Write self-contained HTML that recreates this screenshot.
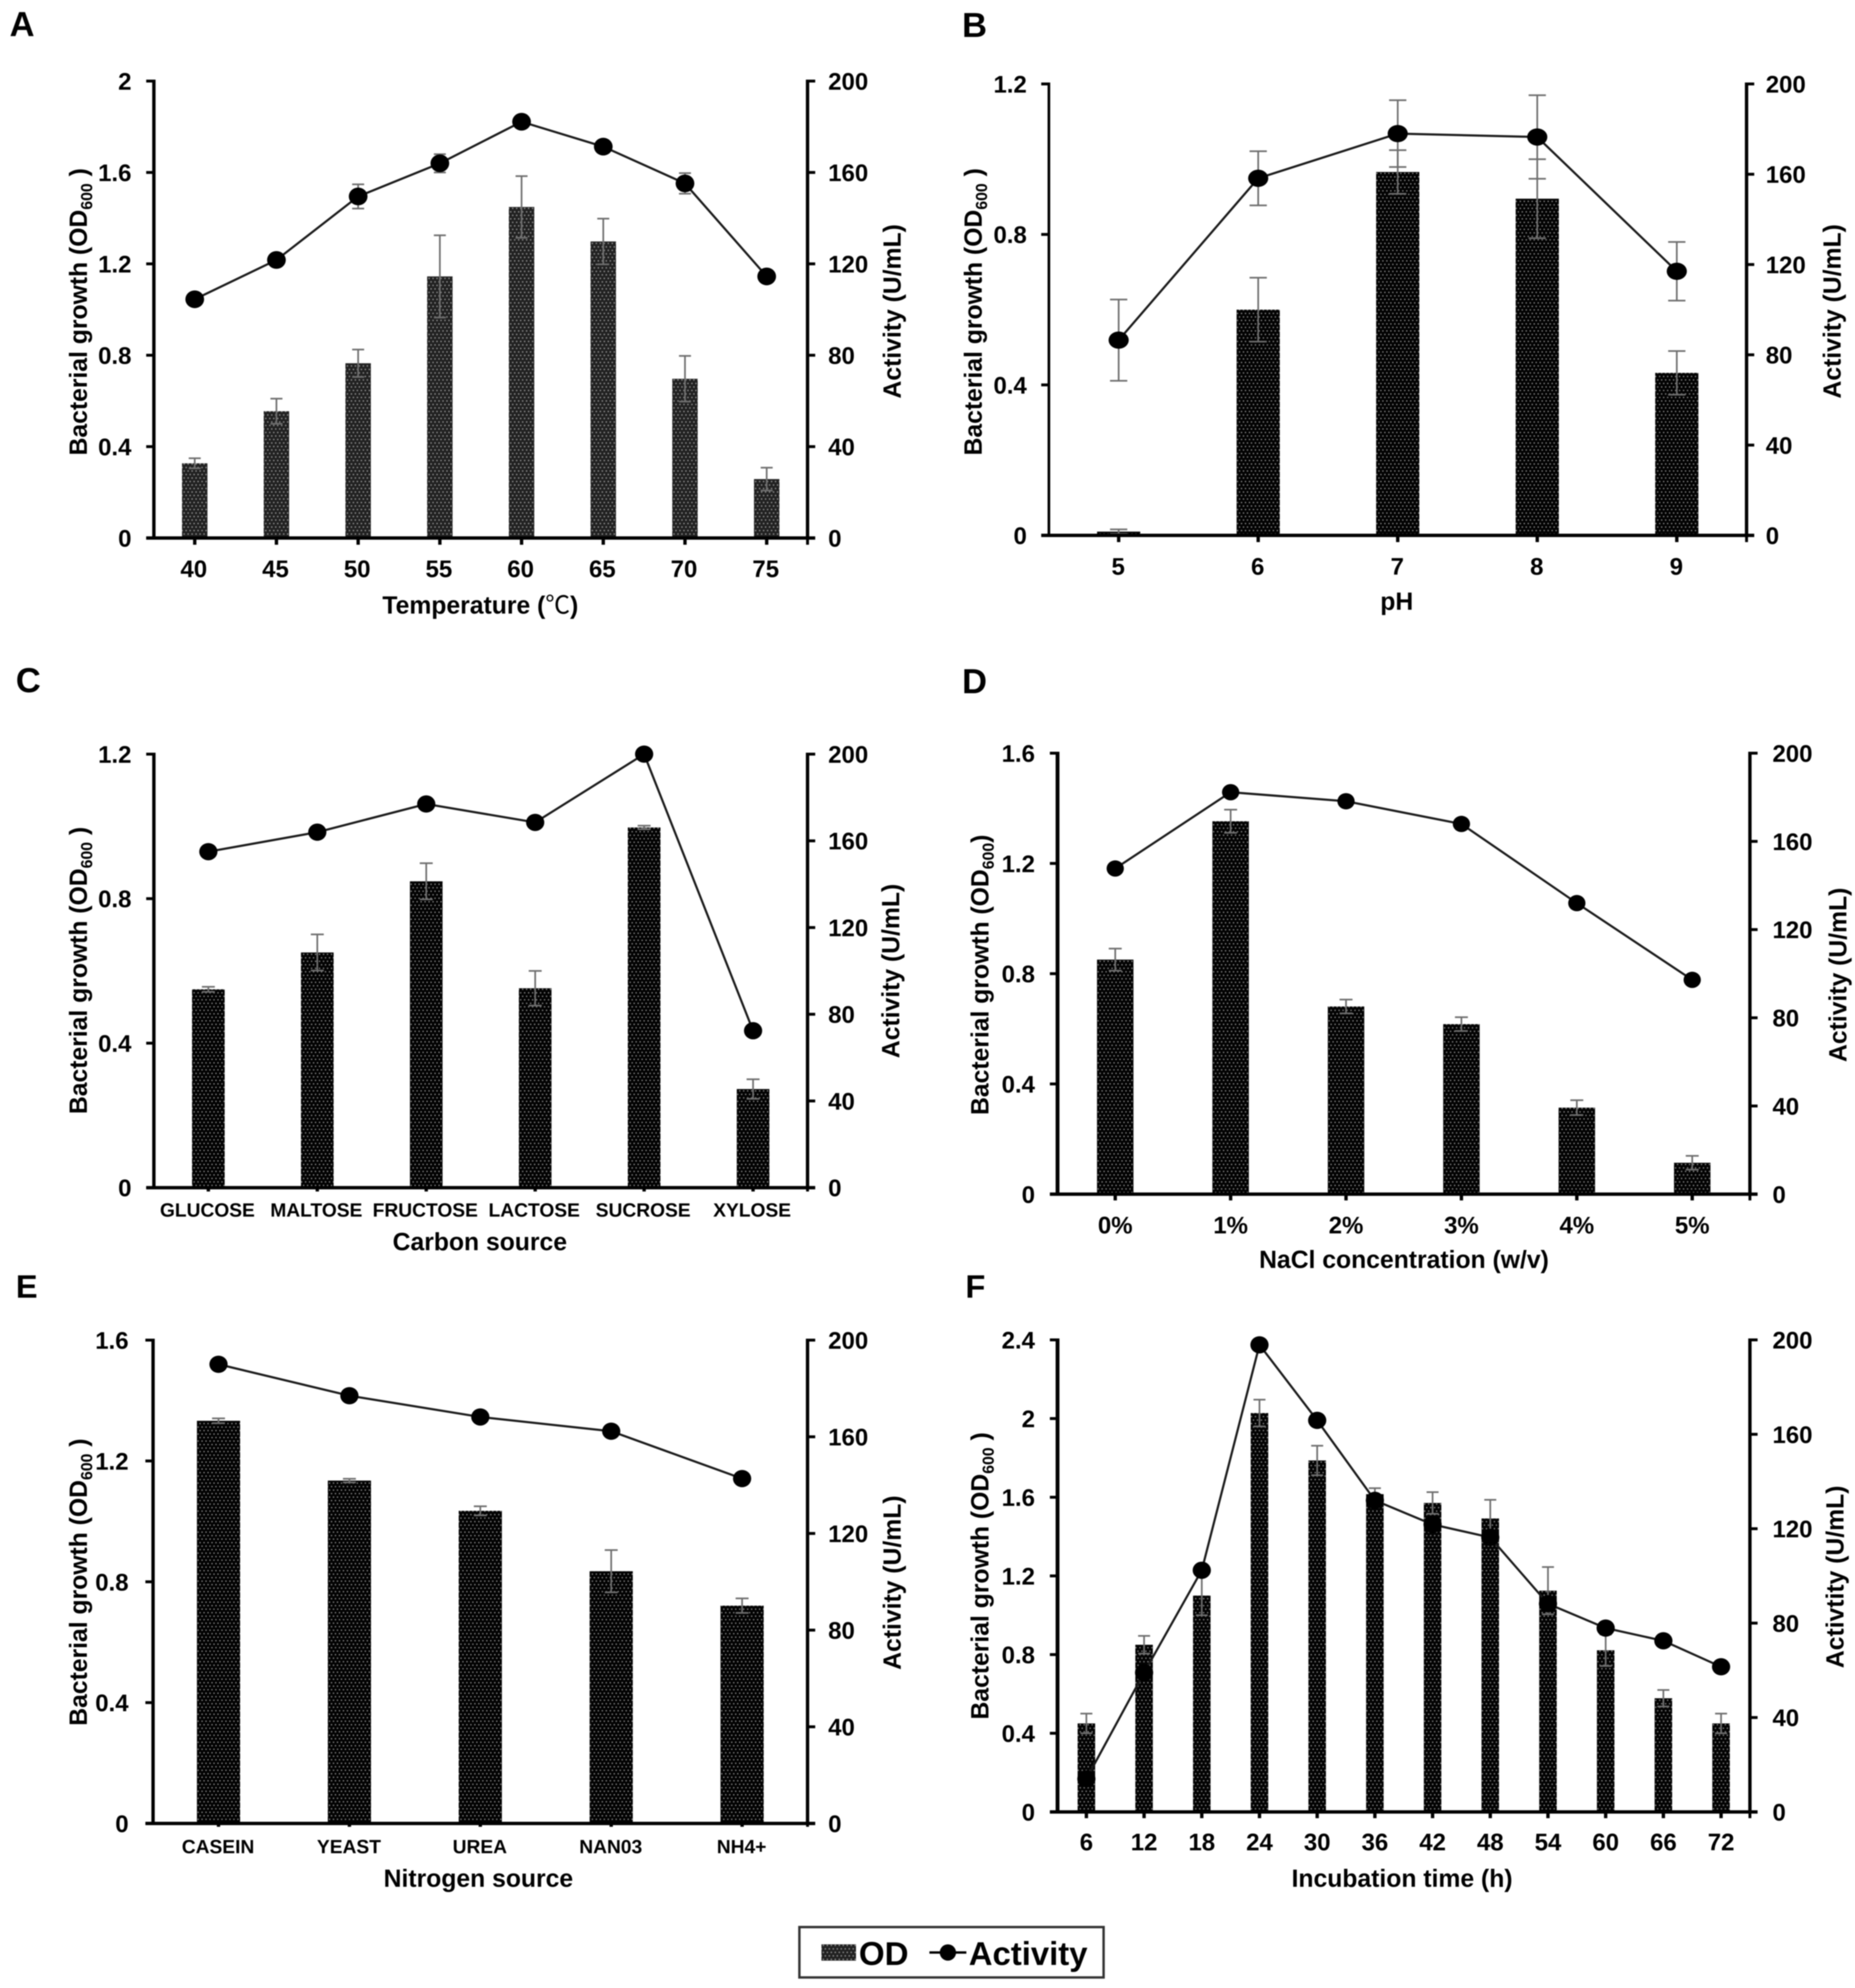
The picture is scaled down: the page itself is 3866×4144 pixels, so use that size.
<!DOCTYPE html>
<html lang="en">
<head>
<meta charset="utf-8">
<title>Bacterial growth and activity panels</title>
<style>
html,body{margin:0;padding:0;background:#fff;width:3866px;height:4144px;overflow:hidden}
svg{display:block;filter:blur(1px)}
text{font-family:"Liberation Sans","Noto Sans CJK KR",sans-serif;font-weight:700;fill:#000}
</style>
</head>
<body>
<svg id="figure" xmlns="http://www.w3.org/2000/svg" width="3866" height="4144" viewBox="0 0 3866 4144">
<defs>
<pattern id="dotsLight" patternUnits="userSpaceOnUse" width="8.3" height="14.6">
<rect width="8.3" height="14.6" fill="#222"/>
<circle cx="2" cy="3.6" r="1.5" fill="#999"/>
<circle cx="6.15" cy="10.9" r="1.5" fill="#999"/>
</pattern>
<pattern id="dotsDark" patternUnits="userSpaceOnUse" width="8.3" height="14.6">
<rect width="8.3" height="14.6" fill="#030303"/>
<circle cx="2" cy="3.6" r="1.4" fill="#999"/>
<circle cx="6.15" cy="10.9" r="1.4" fill="#999"/>
</pattern>
</defs>
<rect width="3866" height="4144" fill="#fff"/>

<text x="20" y="75" font-size="72">A</text>
<text x="2005" y="77" font-size="72">B</text>
<text x="33" y="1443" font-size="72">C</text>
<text x="2005" y="1445" font-size="72">D</text>
<text x="33" y="2705" font-size="68">E</text>
<text x="2012" y="2705" font-size="68">F</text>

<text font-size="51.5" text-anchor="middle" transform="translate(181 650) rotate(-90)">Bacterial growth (OD<tspan font-size="33" dy="11">600</tspan><tspan dy="-11"> )</tspan></text>
<text font-size="51.5" text-anchor="middle" transform="translate(1877 649) rotate(-90)">Activity (U/mL)</text>
<text font-size="51.5" text-anchor="middle" x="1001" y="1279">Temperature (<tspan font-weight="400">℃</tspan>)</text>

<text font-size="51.5" text-anchor="middle" transform="translate(2046 650) rotate(-90)">Bacterial growth (OD<tspan font-size="33" dy="11">600</tspan><tspan dy="-11"> )</tspan></text>
<text font-size="51.5" text-anchor="middle" transform="translate(3836 649) rotate(-90)">Activity (U/mL)</text>
<text font-size="51.5" text-anchor="middle" x="2911" y="1271">pH</text>

<text font-size="51.5" text-anchor="middle" transform="translate(181 2023) rotate(-90)">Bacterial growth (OD<tspan font-size="33" dy="11">600</tspan><tspan dy="-11"> )</tspan></text>
<text font-size="51.5" text-anchor="middle" transform="translate(1874 2024) rotate(-90)">Activity (U/mL)</text>
<text font-size="51.5" text-anchor="middle" x="1000" y="2606">Carbon source</text>

<text font-size="51.5" text-anchor="middle" transform="translate(2060 2032) rotate(-90)">Bacterial growth (OD<tspan font-size="33" dy="11">600</tspan><tspan dy="-11">)</tspan></text>
<text font-size="51.5" text-anchor="middle" transform="translate(3848 2032) rotate(-90)">Activity (U/mL)</text>
<text font-size="51.5" text-anchor="middle" x="2926" y="2643">NaCl concentration (w/v)</text>

<text font-size="51.5" text-anchor="middle" transform="translate(181 3298) rotate(-90)">Bacterial growth (OD<tspan font-size="33" dy="11">600</tspan><tspan dy="-11"> )</tspan></text>
<text font-size="51.5" text-anchor="middle" transform="translate(1877 3299) rotate(-90)">Activity (U/mL)</text>
<text font-size="51.5" text-anchor="middle" x="997" y="3933">Nitrogen source</text>

<text font-size="51.5" text-anchor="middle" transform="translate(2060 3285) rotate(-90)">Bacterial growth (OD<tspan font-size="33" dy="11">600</tspan><tspan dy="-11"> )</tspan></text>
<text font-size="51.5" text-anchor="middle" transform="translate(3842 3287) rotate(-90)">Activtity (U/mL)</text>
<text font-size="51.5" text-anchor="middle" x="2922" y="3933">Incubation time (h)</text>

<g>
<rect x="1666" y="4017" width="634" height="105" fill="#fff" stroke="#333" stroke-width="5"/>
<rect x="1712" y="4053" width="72" height="34" fill="url(#dotsLight)"/>
<text x="1790" y="4096" font-size="69">OD</text>
<line x1="1937" y1="4070" x2="2014" y2="4070" stroke="#000" stroke-width="5"/>
<circle cx="1975.5" cy="4070" r="17" fill="#000"/>
<text x="2019" y="4096" font-size="68.5">Activity</text>
</g>
<g id="charts"></g>
</svg>
<script>
// Panel A
const aCategories = ['40', '45', '50', '55', '60', '65', '70', '75'];
const aOd = [0.327, 0.555, 0.765, 1.145, 1.449, 1.298, 0.697, 0.258];
const aOdErr = [0.022, 0.055, 0.06, 0.18, 0.135, 0.1, 0.1, 0.05];
const aActivity = [104.5, 121.7, 149.5, 164, 182.2, 171.3, 155.2, 114.5];
const aActivityErr = [0, 0, 5.3, 4, 0, 0, 4.5, 0];
const aLeftTicks = [0, 0.4, 0.8, 1.2, 1.6, 2];
const aRightTicks = [0, 40, 80, 120, 160, 200];
// Panel B
const bCategories = ['5', '6', '7', '8', '9'];
const bOd = [0.01, 0.6, 0.966, 0.895, 0.432];
const bOdErr = [0.006, 0.085, 0.058, 0.105, 0.058];
const bActivity = [86.5, 158.2, 178, 176.5, 117];
const bActivityErr = [18, 12, 14.8, 18.5, 13];
const bLeftTicks = [0, 0.4, 0.8, 1.2];
const bRightTicks = [0, 40, 80, 120, 160, 200];
// Panel C
const cCategories = ['GLUCOSE', 'MALTOSE', 'FRUCTOSE', 'LACTOSE', 'SUCROSE', 'XYLOSE'];
const cOd = [0.549, 0.651, 0.848, 0.552, 0.997, 0.273];
const cOdErr = [0.007, 0.05, 0.05, 0.048, 0.005, 0.027];
const cActivity = [155, 164, 177, 168.5, 200, 72.4];
const cActivityErr = [0, 0, 0, 0, 0, 0];
const cLeftTicks = [0, 0.4, 0.8, 1.2];
const cRightTicks = [0, 40, 80, 120, 160, 200];
// Panel D
const dCategories = ['0%', '1%', '2%', '3%', '4%', '5%'];
const dOd = [0.851, 1.353, 0.681, 0.617, 0.314, 0.114];
const dOdErr = [0.04, 0.042, 0.025, 0.025, 0.027, 0.025];
const dActivity = [147.7, 182.3, 178.2, 167.9, 132, 97.2];
const dActivityErr = [0, 0, 0, 0, 0, 0];
const dLeftTicks = [0, 0.4, 0.8, 1.2, 1.6];
const dRightTicks = [0, 40, 80, 120, 160, 200];
// Panel E
const eCategories = ['CASEIN', 'YEAST', 'UREA', 'NAN03', 'NH4+'];
const eOd = [1.333, 1.135, 1.035, 0.835, 0.721];
const eOdErr = [0.008, 0.006, 0.015, 0.07, 0.024];
const eActivity = [190, 177, 168.2, 162.3, 142.7];
const eActivityErr = [0, 0, 0, 0, 0];
const eLeftTicks = [0, 0.4, 0.8, 1.2, 1.6];
const eRightTicks = [0, 40, 80, 120, 160, 200];
// Panel F
const fCategories = ['6', '12', '18', '24', '30', '36', '42', '48', '54', '60', '66', '72'];
const fOd = [0.45, 0.85, 1.1, 2.028, 1.787, 1.616, 1.571, 1.492, 1.125, 0.822, 0.578, 0.45];
const fOdErr = [0.05, 0.045, 0.1, 0.068, 0.075, 0.03, 0.055, 0.095, 0.12, 0.08, 0.042, 0.05];
const fActivity = [14, 59, 102.4, 197.9, 165.9, 132, 121.8, 116.3, 88.2, 77.9, 72.5, 61.5];
const fActivityErr = [0, 0, 0, 0, 0, 0, 0, 0, 0, 0, 0, 0];
const fLeftTicks = [0, 0.4, 0.8, 1.2, 1.6, 2, 2.4];
const fRightTicks = [0, 40, 80, 120, 160, 200];

const NS = 'http://www.w3.org/2000/svg';
const root = document.getElementById('charts');

function svgEl(parent, tag, attrs, text) {
  const node = document.createElementNS(NS, tag);
  for (const k in attrs) node.setAttribute(k, attrs[k]);
  if (text !== undefined) node.textContent = text;
  parent.appendChild(node);
  return node;
}

function drawPanel(key, L, cats, od, odErr, act, actErr, leftTicks, rightTicks) {
  const odMax = leftTicks[leftTicks.length - 1];
  const actMax = rightTicks[rightTicks.length - 1];
  const band = (L.right - L.left) / cats.length;
  const xPos = i => L.left + band * (i + 0.5);
  const yOd = v => L.bottom - (v / odMax) * (L.bottom - L.top);
  const yAct = v => L.bottom - (v / actMax) * (L.bottom - L.top);

  const g = svgEl(root, 'g', {});
  
  

  // bars
  cats.forEach((c, i) => {
    const bar = svgEl(g, 'rect', {
      x: xPos(i) - L.barW / 2, y: yOd(od[i]), width: L.barW,
      height: L.bottom - yOd(od[i]), fill: L.fill
    });
    
    
  });

  // OD error bars
  cats.forEach((c, i) => {
    const hi = yOd(od[i] + odErr[i]);
    const lo = yOd(od[i] - odErr[i]);
    const cx = xPos(i) + L.errDx;
    const err = svgEl(g, 'path', {
      d: 'M' + cx + ' ' + hi + 'V' + lo +
         'M' + (cx - L.capW / 2) + ' ' + hi + 'H' + (cx + L.capW / 2) +
         'M' + (cx - L.capW / 2) + ' ' + lo + 'H' + (cx + L.capW / 2),
      stroke: '#6e6e6e', 'stroke-width': 3.5, fill: 'none'
    });
    
    
  });

  // activity error bars
  cats.forEach((c, i) => {
    if (!actErr[i]) return;
    const hi = yAct(act[i] + actErr[i]);
    const lo = yAct(act[i] - actErr[i]);
    const cx = xPos(i) + L.errDx;
    const err = svgEl(g, 'path', {
      d: 'M' + cx + ' ' + hi + 'V' + lo +
         'M' + (cx - L.capW / 2) + ' ' + hi + 'H' + (cx + L.capW / 2) +
         'M' + (cx - L.capW / 2) + ' ' + lo + 'H' + (cx + L.capW / 2),
      stroke: '#6e6e6e', 'stroke-width': 3.5, fill: 'none'
    });
    
    
  });

  // axes
  const leftAxis = svgEl(g, 'line', {x1: L.left, y1: L.top - 3, x2: L.left, y2: L.bottom, stroke: '#000', 'stroke-width': L.axisW});
  
  
  const rightAxis = svgEl(g, 'line', {x1: L.right, y1: L.top - 3, x2: L.right, y2: L.bottom, stroke: '#000', 'stroke-width': 7});
  
  
  const xAxis = svgEl(g, 'line', {x1: L.left - 16, y1: L.bottom, x2: L.right + 16, y2: L.bottom, stroke: '#000', 'stroke-width': 7});
  
  

  // left ticks
  leftTicks.forEach(t => {
    const y = yOd(t);
    const tick = svgEl(g, 'line', {x1: L.left - 16, y1: y, x2: L.left, y2: y, stroke: '#000', 'stroke-width': 6});
    
    
    const label = svgEl(g, 'text', {x: L.leftLabelX, y: y + 18, 'font-size': 50, 'text-anchor': 'end'}, String(t));
    
    
  });

  // right ticks
  rightTicks.forEach(t => {
    const y = yAct(t);
    const tick = svgEl(g, 'line', {x1: L.right, y1: y, x2: L.right + 16, y2: y, stroke: '#000', 'stroke-width': 6});
    
    
    const label = svgEl(g, 'text', {x: L.rightLabelX, y: y + 18, 'font-size': 50}, String(t));
    
    
  });

  // x ticks and labels
  cats.forEach((c, i) => {
    const tick = svgEl(g, 'line', {x1: xPos(i), y1: L.bottom, x2: xPos(i), y2: L.bottom + L.tickLen, stroke: '#000', 'stroke-width': 7});
    
    
    const label = svgEl(g, 'text', {x: xPos(i) + L.labelDx, y: L.xLabelY, 'font-size': L.xLabelSize, 'text-anchor': 'middle'}, c);
    
    
  });
  const endTick = svgEl(g, 'line', {x1: L.right, y1: L.bottom, x2: L.right, y2: L.bottom + L.tickLen, stroke: '#000', 'stroke-width': 6});
  
  

  // activity line
  const pts = act.map((v, i) => xPos(i) + ',' + yAct(v)).join(' ');
  const line = svgEl(g, 'polyline', {points: pts, fill: 'none', stroke: '#1a1a1a', 'stroke-width': 4.5, 'stroke-linejoin': 'round'});
  
  

  // activity markers
  act.forEach((v, i) => {
    const dot = svgEl(g, 'ellipse', {cx: xPos(i), cy: yAct(v), rx: L.rx, ry: L.ry, fill: '#000'});
    
    
  });
}

drawPanel('a', {left: 320.7, right: 1683, top: 169, bottom: 1121.5, barW: 53, capW: 25, errDx: 0, axisW: 7, fill: 'url(#dotsLight)', leftLabelX: 274, rightLabelX: 1726, xLabelY: 1203, xLabelSize: 50, labelDx: -2, tickLen: 14, rx: 19.5, ry: 18.5},
  aCategories, aOd, aOdErr, aActivity, aActivityErr, aLeftTicks, aRightTicks);
drawPanel('b', {left: 2186, right: 3640, top: 175, bottom: 1116, barW: 90, capW: 36, errDx: 0, axisW: 5.5, fill: 'url(#dotsDark)', leftLabelX: 2140, rightLabelX: 3680, xLabelY: 1198, xLabelSize: 50, labelDx: -1, tickLen: 14, rx: 21, ry: 18},
  bCategories, bOd, bOdErr, bActivity, bActivityErr, bLeftTicks, bRightTicks);
drawPanel('c', {left: 320.7, right: 1683, top: 1572, bottom: 2475.7, barW: 68, capW: 27, errDx: 0, axisW: 7, fill: 'url(#dotsDark)', leftLabelX: 274, rightLabelX: 1726, xLabelY: 2536, xLabelSize: 40, labelDx: -2, tickLen: 8, rx: 19, ry: 18},
  cCategories, cOd, cOdErr, cActivity, cActivityErr, cLeftTicks, cRightTicks);
drawPanel('d', {left: 2204, right: 3647, top: 1570, bottom: 2489.3, barW: 76, capW: 27, errDx: 0, axisW: 8, fill: 'url(#dotsDark)', leftLabelX: 2157, rightLabelX: 3694, xLabelY: 2571, xLabelSize: 50, labelDx: 0, tickLen: 13, rx: 18, ry: 17},
  dCategories, dOd, dOdErr, dActivity, dActivityErr, dLeftTicks, dRightTicks);
drawPanel('e', {left: 319, right: 1683, top: 2793.5, bottom: 3801, barW: 90, capW: 27, errDx: 0, axisW: 7, fill: 'url(#dotsDark)', leftLabelX: 268, rightLabelX: 1726, xLabelY: 3863, xLabelSize: 40, labelDx: -1, tickLen: 7, rx: 19, ry: 18},
  eCategories, eOd, eOdErr, eActivity, eActivityErr, eLeftTicks, eRightTicks);
drawPanel('f', {left: 2204, right: 3647, top: 2793, bottom: 3777, barW: 36.5, capW: 25, errDx: 0, axisW: 8, fill: 'url(#dotsDark)', leftLabelX: 2157, rightLabelX: 3694, xLabelY: 3857, xLabelSize: 50, labelDx: 0, tickLen: 13, rx: 19, ry: 18},
  fCategories, fOd, fOdErr, fActivity, fActivityErr, fLeftTicks, fRightTicks);
</script>
</body>
</html>
